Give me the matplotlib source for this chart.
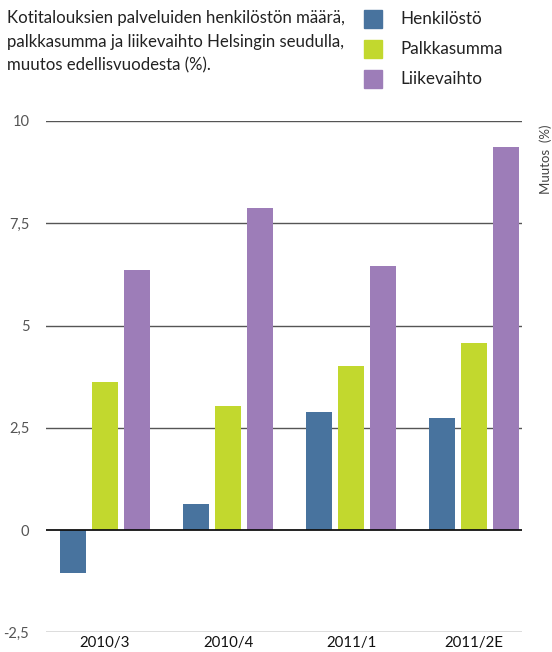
import matplotlib
matplotlib.use("Agg")
import matplotlib.pyplot as plt
from matplotlib.patches import Rectangle
import numpy as np

categories = ["2010/3", "2010/4", "2011/1", "2011/2E"]
series_names = ["Henkilöstö", "Palkkasumma", "Liikevaihto"]
henkilosto = [-1.05, 0.64, 2.88, 2.74]
palkkasumma = [3.62, 3.03, 4.01, 4.57]
liikevaihto = [6.36, 7.87, 6.45, 9.36]
yticks = [-2.5, 0, 2.5, 5, 7.5, 10]
ytick_labels = ["-2,5", "0", "2,5", "5", "7,5", "10"]
colors = ["#48739e", "#c2d82e", "#9d7db8"]
title_lines = ["Kotitalouksien palveluiden henkilöstön määrä,",
               "palkkasumma ja liikevaihto Helsingin seudulla,",
               "muutos edellisvuodesta (%)."]

plt.rcParams['font.family'] = ['Lato', 'DejaVu Sans']

W, H = 552, 652
fig = plt.figure(figsize=(W/100, H/100), dpi=100)
ax = fig.add_axes([46/W, 1-632.25/H, (522-46)/W, (632.25-121)/H])

x = np.arange(len(categories))
bw = 0.21
off = 0.26
for i, vals in enumerate([henkilosto, palkkasumma, liikevaihto]):
    ax.bar(x + (i-1)*off, vals, width=bw, color=colors[i], zorder=3)

ax.set_xlim(-0.48, 3.39)
ax.set_ylim(-2.5, 10)
ax.set_yticks(yticks)
ax.set_yticklabels(ytick_labels)
for t in yticks:
    if t == 0:
        continue
    ax.axhline(t, color="#555555", lw=1.0, zorder=1)
ax.axhline(0, color="#111111", lw=1.3, zorder=4)
for s in ax.spines.values():
    s.set_visible(False)
ax.tick_params(axis='y', length=0, pad=12, labelsize=10.5, labelcolor="#555555")
ax.tick_params(axis='x', length=0, pad=3, labelsize=10.8, labelcolor="#111111")
ax.set_xticks(x)
ax.set_xticklabels(categories)

for j, line in enumerate(title_lines):
    fig.text(7/W, 1-(18 + j*23.5)/H, line, ha='left', va='center', fontsize=12.1, color="#222222")

for i, name in enumerate(series_names):
    y0 = 10 + i*30
    fig.patches.append(Rectangle((364/W, 1-(y0+18)/H), 18/W, 18/H, transform=fig.transFigure, color=colors[i]))
    fig.text(400/W, 1-(y0+9)/H, name, ha='left', va='center', fontsize=12.3, color="#222222")

fig.text(546/W, 1-124/H, "Muutos  (%)", rotation=90, ha='center', va='top', fontsize=9.5, color="#444444")

fig.savefig("out.png", dpi=100)
